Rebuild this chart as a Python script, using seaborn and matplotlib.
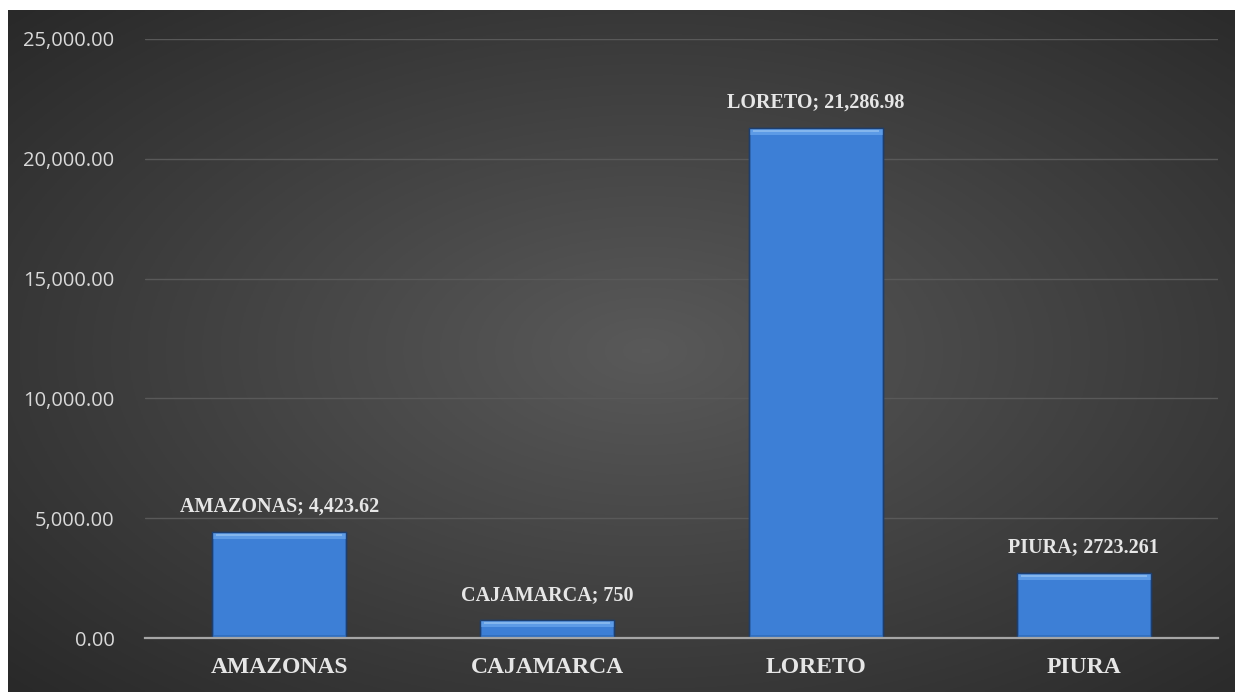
import numpy as np
import pandas as pd
import matplotlib
matplotlib.use("Agg")
import matplotlib.pyplot as plt
import seaborn as sns
from matplotlib.patches import Rectangle

# chart data
regions = ["AMAZONAS", "CAJAMARCA", "LORETO", "PIURA"]
values = [4423.62, 750, 21286.98, 2723.261]
value_labels = ["4,423.62", "750", "21,286.98", "2723.261"]
y_ticks = [0, 5000, 10000, 15000, 20000, 25000]

df = pd.DataFrame({"region": regions, "value": values})

sns.set_style("white")
plt.rcParams["font.family"] = ["Open Sans", "DejaVu Sans"]

W, H = 1235, 692
fig = plt.figure(figsize=(W / 100, H / 100), dpi=100)
fig.patch.set_facecolor("white")

# dark radial gradient background panel
bg = fig.add_axes([8 / W, 0, 1 - 8 / W, 1 - 10 / H])
yy, xx = np.mgrid[0:1:300j, 0:1:500j]
r = np.sqrt(((xx - 0.52) / 0.8) ** 2 + ((yy - 0.5) / 0.8) ** 2)
shade = np.clip(0.35 - 0.21 * r, 0.15, 0.35)
bg.imshow(np.dstack([shade] * 3), aspect="auto", extent=[0, 1, 0, 1])
bg.axis("off")

ax = fig.add_axes([145 / W, 1 - 638 / H, (1218 - 145) / W, (638 - 39) / H])
ax.set_facecolor("none")

sns.barplot(data=df, x="region", y="value", ax=ax, color="#3d7fd6",
            width=0.5, edgecolor="#1d3e6e", linewidth=1.0, saturation=1, zorder=3)

# bevel highlights on each bar
px_y = 25000 / 599
for p in ax.patches[:len(regions)]:
    x0, y0 = p.get_x(), p.get_y()
    w, h = p.get_width(), p.get_height()
    band = min(7 * px_y, h * 0.4)
    ax.add_patch(Rectangle((x0, y0 + h - band), w, band, facecolor="#5d9be6",
                           edgecolor="none", zorder=4))
    ax.add_patch(Rectangle((x0 + w * 0.03, y0 + h - band * 0.55), w * 0.94, band * 0.3,
                           facecolor="#8fbdf0", edgecolor="none", zorder=4, alpha=0.8))
    ax.add_patch(Rectangle((x0, y0), w, min(3 * px_y, h * 0.2), facecolor="#3270c0",
                           edgecolor="none", zorder=4))
    ax.add_patch(Rectangle((x0, y0), w, h, facecolor="none", edgecolor="#1d3e6e",
                           linewidth=1.0, zorder=5))

ax.set_ylim(0, 25000)
ax.set_yticks(y_ticks)
ax.set_yticklabels([f"{t:,.2f}" for t in y_ticks], color="#d9d9d9", fontsize=14.5)
ax.set_xticks(range(len(regions)))
ax.set_xticklabels(regions, color="#e6e6e6", fontsize=17, fontweight="bold",
                   family=["Liberation Serif", "DejaVu Serif"])
ax.tick_params(axis="x", length=0, pad=14)
ax.tick_params(axis="y", length=0, pad=22)
ax.set_xlabel("")
ax.set_ylabel("")
ax.yaxis.grid(True, color="#595959", linewidth=1.0, zorder=0)
ax.set_axisbelow(True)
for s in ["top", "right", "left"]:
    ax.spines[s].set_visible(False)
ax.spines["bottom"].set_color("#a6a6a6")
ax.spines["bottom"].set_linewidth(1.6)
ax.spines["bottom"].set_zorder(6)

for i, (reg, v, lab) in enumerate(zip(regions, values, value_labels)):
    ax.annotate(f"{reg}; {lab}", (i, v), xytext=(0, 11), textcoords="offset points",
                ha="center", va="bottom", color="#e6e6e6", fontsize=14.5,
                fontweight="bold", family=["Liberation Serif", "DejaVu Serif"], zorder=7)

fig.savefig("out.png", dpi=100)
